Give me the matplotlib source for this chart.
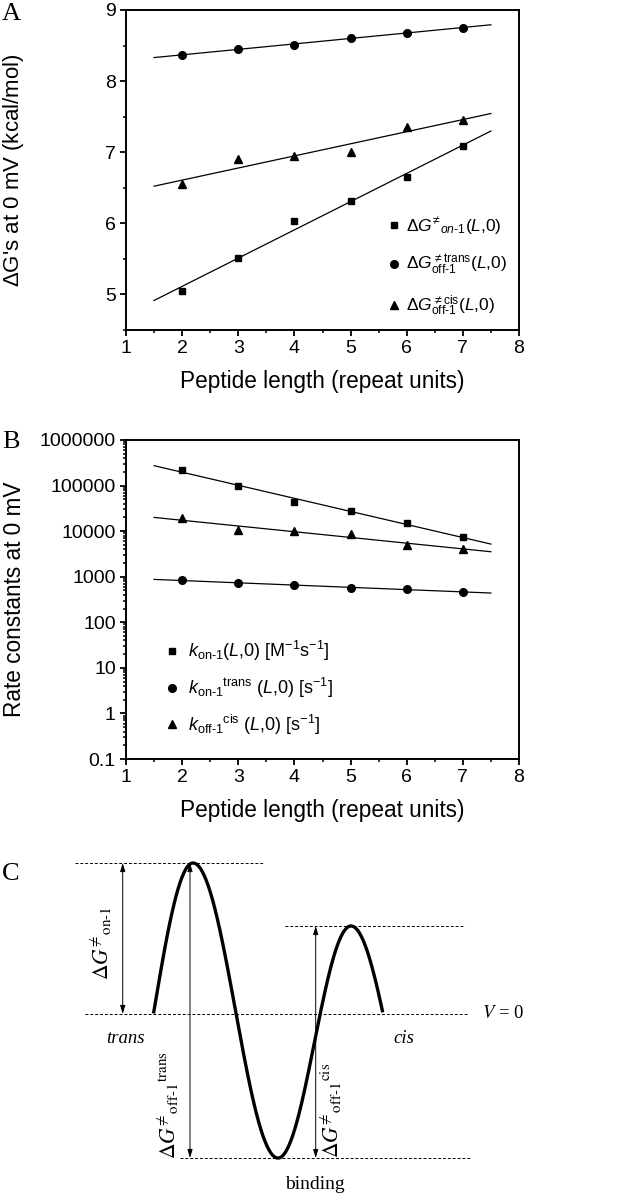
import numpy as np
import matplotlib
matplotlib.use('Agg')
import matplotlib.pyplot as plt
from matplotlib.ticker import FixedLocator, NullFormatter, MultipleLocator

plt.rcParams['font.family'] = 'Liberation Sans'
plt.rcParams['mathtext.fontset'] = 'custom'
plt.rcParams['mathtext.rm'] = 'Liberation Sans'
plt.rcParams['mathtext.it'] = 'Liberation Sans:italic'
plt.rcParams['mathtext.bf'] = 'Liberation Sans:bold'

# peptide length (repeat units)
lengths = np.array([2, 3, 4, 5, 6, 7])

# panel A: free energies at 0 mV (kcal/mol)
dg_on = np.array([5.05, 5.51, 6.03, 6.31, 6.65, 7.09])
dg_off_trans = np.array([8.37, 8.45, 8.51, 8.61, 8.68, 8.75])
dg_off_cis = np.array([6.55, 6.90, 6.94, 7.00, 7.35, 7.46])

# panel B: rate constants at 0 mV
k_on = np.array([2.2e5, 1.0e5, 4.3e4, 2.7e4, 1.54e4, 7.3e3])
k_on_trans = np.array([850, 710, 660, 570, 525, 470])
k_off_cis = np.array([1.9e4, 1.06e4, 1.0e4, 8.7e3, 4.9e3, 4.1e3])
b_ticks = [0.1, 1, 10, 100, 1000, 10000, 100000, 1000000]
b_ticklabels = ['0.1', '1', '10', '100', '1000', '10000', '100000', '1000000']

# panel C: schematic energy profile (extrema positions and levels)
barrier_x = [115, 193, 278, 351, 427]
barrier_g = [-0.954, 1.0, -0.954, 0.583, -0.954]
profile_start, profile_end = 153, 383

fit_x = np.array([1.5, 7.5])

fig = plt.figure(figsize=(6.26, 11.99), dpi=100)
W, H = 626.0, 1199.0


def px_axes(x0, y0, x1, y1):
    return fig.add_axes([x0 / W, 1 - y1 / H, (x1 - x0) / W, (y1 - y0) / H])


def style_axes(ax):
    for s in ax.spines.values():
        s.set_linewidth(1.4)
    ax.tick_params(which='major', direction='out', length=4.3, width=1.3, labelsize=14,
                   top=False, right=False, pad=3)
    ax.tick_params(which='minor', direction='out', length=2.5, width=1.1, top=False, right=False)
    ax.set_xlim(1, 8)
    ax.xaxis.set_major_locator(MultipleLocator(1))
    ax.xaxis.set_minor_locator(MultipleLocator(0.5))
    ax.set_xlabel('Peptide length (repeat units)', fontsize=16.3, labelpad=9)
    ax.yaxis.set_label_coords(-0.255, 0.5)


mk = dict(color='black', linestyle='none')

# ---- Panel A ----
axA = px_axes(126, 10, 519, 330)
style_axes(axA)
axA.set_ylim(4.5, 9)
axA.yaxis.set_major_locator(MultipleLocator(1))
axA.yaxis.set_minor_locator(MultipleLocator(0.5))
axA.set_ylabel("$\\Delta$G's at 0 mV (kcal/mol)", fontsize=16)

seriesA = [
    (dg_on, 's', 4.5, r'$\Delta G^{\!\neq\!}{}_{on\text{-}1}(L{,}0)$'),
    (dg_off_trans, 'o', 5.5, r'$\Delta G^{\neq\mathrm{trans}}_{\mathrm{off\text{-}1}}(L{,}0)$'),
    (dg_off_cis, '^', 5.5, r'$\Delta G^{\neq\mathrm{cis}}_{\mathrm{off\text{-}1}}(L{,}0)$'),
]
for y, m, ms, lab in seriesA:
    axA.plot(lengths, y, marker=m, markersize=ms, label=lab, **mk)
    p = np.polyfit(lengths, y, 1)
    axA.plot(fit_x, np.polyval(p, fit_x), color='black', lw=0.9)
legA = axA.legend(loc='lower right', bbox_to_anchor=(1.0, 0.0), frameon=False, fontsize=12.5,
                  handlelength=0.6, handletextpad=0.4, labelspacing=0.95, borderaxespad=0.3)

# ---- Panel B ----
axB = px_axes(126, 440, 519, 759)
style_axes(axB)
axB.set_yscale('log')
axB.set_ylim(0.1, 1e6)
axB.yaxis.set_major_locator(FixedLocator(b_ticks))
axB.set_yticklabels(b_ticklabels)
axB.yaxis.set_minor_locator(FixedLocator([m * 10.0 ** e for e in range(-1, 6) for m in range(2, 10)]))
axB.yaxis.set_minor_formatter(NullFormatter())
axB.set_ylabel('Rate constants at 0 mV', fontsize=16.3)

seriesB = [
    (k_on, 's', 4.5, r'$k_{\mathrm{on\text{-}1}}(L{,}0)\ [\mathrm{M}^{-1}\mathrm{s}^{-1}]$'),
    (k_on_trans, 'o', 5.5, r'$k_{\mathrm{on\text{-}1}}{}^{\mathrm{trans}}\ (L{,}0)\ [\mathrm{s}^{-1}]$'),
    (k_off_cis, '^', 5.5, r'$k_{\mathrm{off\text{-}1}}{}^{\mathrm{cis}}\ (L{,}0)\ [\mathrm{s}^{-1}]$'),
]
for y, m, ms, lab in seriesB:
    axB.plot(lengths, y, marker=m, markersize=ms, label=lab, **mk)
    p = np.polyfit(lengths, np.log10(y), 1)
    axB.plot(fit_x, 10 ** np.polyval(p, fit_x), color='black', lw=0.9)
legB = axB.legend(loc='lower left', bbox_to_anchor=(0.07, 0.03), frameon=False, fontsize=13,
                  handlelength=0.6, handletextpad=0.6, labelspacing=0.7, borderaxespad=0.3)

# panel letters
for lab, ypix in [('A', 14), ('B', 442), ('C', 874)]:
    fig.text(2 / W, 1 - ypix / H, lab, family='Liberation Serif', fontsize=19,
             ha='left', va='center')

# ---- Panel C ----
axC = fig.add_axes([0, 0, 1, (1199 - 840) / H])
axC.set_xlim(0, W)
axC.set_ylim((1014 - 1199) / 151.0, (1014 - 840) / 151.0)
axC.axis('off')

# smooth profile: half-cosine segments between extrema
xs, ys = [], []
for i in range(len(barrier_x) - 1):
    t = np.linspace(0, 1, 80)
    xs.append(barrier_x[i] + t * (barrier_x[i + 1] - barrier_x[i]))
    ys.append(barrier_g[i] + (barrier_g[i + 1] - barrier_g[i]) * (1 - np.cos(np.pi * t)) / 2)
xs = np.concatenate(xs)
ys = np.concatenate(ys)
keep = (xs >= profile_start) & (xs <= profile_end)
axC.plot(xs[keep], ys[keep], color='black', lw=2.4, solid_capstyle='butt')

dash = dict(color='black', lw=0.7, linestyle=(0, (3, 2)))
g_peak1, g_bind, g_peak2 = barrier_g[1], barrier_g[2], barrier_g[3]
axC.plot([75, 263], [g_peak1, g_peak1], **dash)
axC.plot([85, 468], [0, 0], **dash)
axC.plot([285, 465], [g_peak2, g_peak2], **dash)
axC.plot([180, 470], [g_bind, g_bind], **dash)

arr = dict(arrowstyle='<|-|>,head_length=0.5,head_width=0.15', color='black', lw=0.7,
           shrinkA=0, shrinkB=0)
axC.annotate('', xy=(122.7, g_peak1), xytext=(122.7, 0), arrowprops=arr)
axC.annotate('', xy=(190, g_peak1), xytext=(190, g_bind), arrowprops=arr)
axC.annotate('', xy=(315.7, g_peak2), xytext=(315.7, g_bind), arrowprops=arr)

serif = dict(family='Liberation Serif', math_fontfamily='stix')
axC.text(101, 0.47, r'$\Delta G^{\!\neq\!}{}_{\mathrm{on\text{-}1}}$', rotation=90, ha='center',
         va='center', fontsize=15.5, **serif)
axC.text(168, -0.6, r'$\Delta G^{\!\neq\!}{}_{\mathrm{off\text{-}1}}{}^{\mathrm{trans}}$', rotation=90,
         ha='center', va='center', fontsize=15.5, **serif)
axC.text(331, -0.64, r'$\Delta G^{\!\neq\!}{}_{\mathrm{off\text{-}1}}{}^{\mathrm{cis}}$', rotation=90,
         ha='center', va='center', fontsize=15.5, **serif)
axC.text(125, -0.16, 'trans', style='italic', ha='center', va='center', fontsize=13.5,
         family='Liberation Serif')
axC.text(404, -0.16, 'cis', style='italic', ha='center', va='center', fontsize=13.5,
         family='Liberation Serif')
axC.text(503, 0, '$V$ = 0', ha='center', va='center', fontsize=13.5, **serif)
axC.text(315, -1.13, 'binding', ha='center', va='center', fontsize=14, family='Liberation Serif')

fig.savefig('out.png', dpi=100)
